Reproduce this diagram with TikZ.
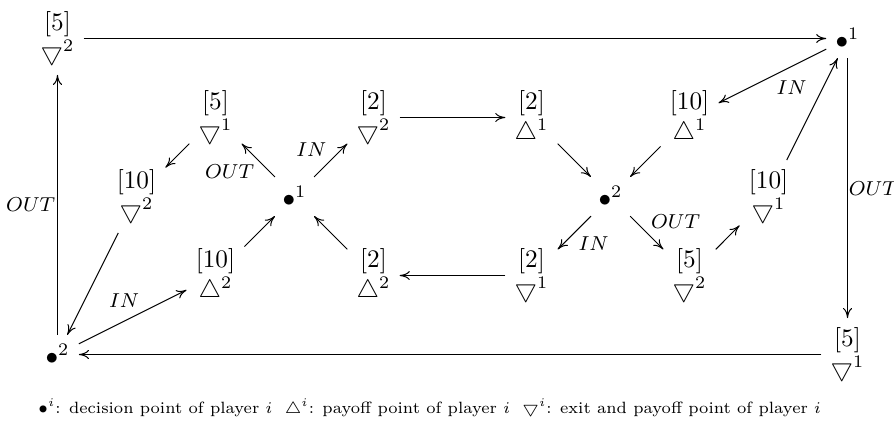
\documentclass[tikz,border=0pt]{standalone}
\usetikzlibrary{arrows.meta}
\begin{document}
\begin{tikzpicture}[x=1.1cm, y=1.1cm, >={To[length=4pt,width=3.6pt]},
  pt/.style={align=center, inner sep=3.5pt},
  arr/.style={->},
  lab/.style={auto, font=\footnotesize, inner sep=1.5pt}]
  \useasboundingbox (-0.7278,-4.8418) rectangle (10.5884,0.4873);
  \node[pt] (tl) at (0,0) {$[5]$\\$\bigtriangledown^2$};
  \node[pt] (tr) at (10,0) {$\bullet^1$};
  \node[pt] (a) at (2,-1) {$[5]$\\$\bigtriangledown^1$};
  \node[pt] (b) at (4,-1) {$[2]$\\$\bigtriangledown^2$};
  \node[pt] (c) at (6,-1) {$[2]$\\$\bigtriangleup^1$};
  \node[pt] (d) at (8,-1) {$[10]$\\$\bigtriangleup^1$};
  \node[pt] (e) at (1,-2) {$[10]$\\$\bigtriangledown^2$};
  \node[pt] (f) at (3,-2) {$\bullet^1$};
  \node[pt] (g) at (7,-2) {$\bullet^2$};
  \node[pt] (h) at (9,-2) {$[10]$\\$\bigtriangledown^1$};
  \node[pt] (i) at (2,-3) {$[10]$\\$\bigtriangleup^2$};
  \node[pt] (j) at (4,-3) {$[2]$\\$\bigtriangleup^2$};
  \node[pt] (k) at (6,-3) {$[2]$\\$\bigtriangledown^1$};
  \node[pt] (l) at (8,-3) {$[5]$\\$\bigtriangledown^2$};
  \node[pt] (bl) at (0,-4) {$\bullet^2$};
  \node[pt] (br) at (10,-4) {$[5]$\\$\bigtriangledown^1$};
  \draw[arr] (tl) -- (tr);
  \draw[arr] (bl) -- node[lab, xshift=0.8pt]{$OUT$} (tl);
  \draw[arr] (tr) -- node[lab, inner sep=0.3pt]{$OUT$} (br);
  \draw[arr] (br) -- (bl);
  \draw[arr] (tr) -- node[lab]{$IN$} (d);
  \draw[arr] (h) -- (tr);
  \draw[arr] (d) -- (g);
  \draw[arr] (c) -- (g);
  \draw[arr] (b) -- (c);
  \draw[arr] (f) -- node[lab]{$IN$} (b);
  \draw[arr] (f) -- node[lab]{$OUT$} (a);
  \draw[arr] (a) -- (e);
  \draw[arr] (e) -- (bl);
  \draw[arr] (bl) -- node[lab, pos=0.6]{$IN$} (i);
  \draw[arr] (i) -- (f);
  \draw[arr] (j) -- (f);
  \draw[arr] (k) -- (j);
  \draw[arr] (g) -- node[lab]{$IN$} (k);
  \draw[arr] (g) -- node[lab]{$OUT$} (l);
  \draw[arr] (l) -- (h);
  \node[font=\scriptsize, scale=0.925] (legend) at (4.71,-4.68) {$\bullet^i$: decision point of player $i$\ \ $\triangle^i$: payoff point of player $i$\ \ $\bigtriangledown^i$: exit and payoff point of player $i$};
\end{tikzpicture}
\end{document}
